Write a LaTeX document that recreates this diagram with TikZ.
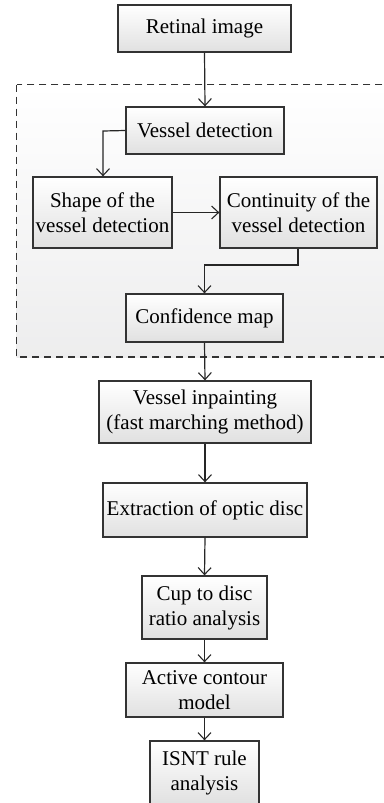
\documentclass[tikz,border=0pt]{standalone}
\usepackage{fontspec}
\setmainfont{Liberation Serif}
\usetikzlibrary{arrows.meta}
\begin{document}
\begin{tikzpicture}[x=1pt,y=-1pt,
  box/.style={draw=black!80, line width=1.3pt, top color=white, bottom color=black!12,
    inner sep=0pt, align=center, font=\fontsize{21}{25}\selectfont},
  conn/.style={draw=black!85, line width=1.2pt, -{Straight Barb[length=7pt,width=13pt,line width=1.1pt]}},
  region/.style={draw=black!80, line width=1.2pt, dash pattern=on 7pt off 5pt, top color=white, bottom color=blue!3!black!7}]
\useasboundingbox (0,0) rectangle (383,803);
\path[region] (16.7,84.5) rectangle (395,357);
\node[box, minimum width=173pt, minimum height=47pt] (ret) at (204.5,28.5) {Retinal image};
\node[box, minimum width=158pt, minimum height=47pt] (ves) at (205,130.5) {Vessel detection};
\node[box, minimum width=139pt, minimum height=71pt] (shape) at (102.5,212.5) {Shape of the\\vessel detection};
\node[box, minimum width=157pt, minimum height=71pt] (cont) at (298.5,212.5) {Continuity of the\\vessel detection};
\node[box, minimum width=157pt, minimum height=48pt] (conf) at (204.5,318) {Confidence map};
\node[box, minimum width=212pt, minimum height=62pt] (inp) at (205,412) {Vessel inpainting\\(fast marching method)};
\node[box, minimum width=204pt, minimum height=54pt] (ext) at (205,510) {Extraction of optic disc};
\node[box, minimum width=125pt, minimum height=63pt] (cup) at (204.5,607.5) {Cup to disc\\ratio analysis};
\node[box, minimum width=157pt, minimum height=54pt] (act) at (204.5,690) {Active contour\\model};
\node[box, minimum width=109pt, minimum height=64pt] (isnt) at (204.5,773) {ISNT rule\\analysis};
\coordinate (c1) at (103,131);
\coordinate (c2) at (298,265);
\coordinate (c3) at (204.5,265);
\draw[conn] (ret.south) -- (ves.north);
\draw[conn] (ves.west) -- (c1) -- (c1 |- shape.north);
\draw[conn] (shape.east) -- (cont.west);
\draw[conn] (c2 |- cont.south) -- (c2) -- (c3) -- (conf.north);
\draw[conn] (conf.south) -- (inp.north);
\draw[conn] (inp.south) -- (ext.north);
\draw[conn] (ext.south) -- (cup.north);
\draw[conn] (cup.south) -- (act.north);
\draw[conn] (act.south) -- (isnt.north);
\end{tikzpicture}
\end{document}
